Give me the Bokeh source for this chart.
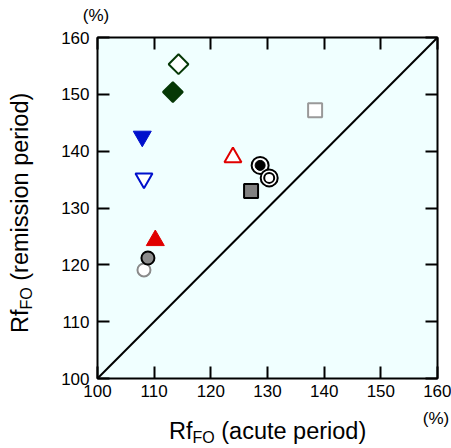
import math
from bokeh.plotting import figure
from bokeh.models import LinearAxis, FixedTicker, Div
from bokeh.layouts import column, row
from bokeh.embed import file_html
from bokeh.resources import INLINE

# ---- data (Rf_FO acute period vs remission period, %) ----
diag = [100, 160]
tick_vals = [100, 110, 120, 130, 140, 150, 160]

open_diamond_x = [114.3]; open_diamond_y = [155.3]
filled_diamond_x = [113.3]; filled_diamond_y = [150.4]
filled_invtri_x = [107.9]; filled_invtri_y = [142.6]
open_invtri_x = [108.2]; open_invtri_y = [135.2]
open_tri_x = [123.9]; open_tri_y = [138.9]
filled_tri_x = [110.2]; filled_tri_y = [124.3]
gray_circle_x = [108.9]; gray_circle_y = [121.2]
open_circle_x = [108.2]; open_circle_y = [119.1]
black_ring_x = [128.7]; black_ring_y = [137.5]
white_ring_x = [130.3]; white_ring_y = [135.3]
gray_square_x = [127.1]; gray_square_y = [133.0]
open_square_x = [138.4]; open_square_y = [147.2]

x_title_main = "Rf"
x_title_sub = "FO"
x_title_rest = " (acute period)"
y_title_rest = " (remission period)"
unit_text = "(%)"

FONT = "Liberation Sans"
CSS_FONT = "'Liberation Sans', Arial, Helvetica, sans-serif"

# layout geometry (page pixels)
TOP_H = 30          # strip above the figure
YLAB_W = 40         # strip left of the figure
FIG_W, FIG_H = 411, 375
XLAB_H = 43

p = figure(width=FIG_W, height=FIG_H, x_range=(100, 160), y_range=(100, 160),
           output_backend="svg", toolbar_location=None, title=None,
           min_border_left=57, min_border_right=14, min_border_top=7, min_border_bottom=27,
           background_fill_color="#f0ffff", border_fill_color="white")
p.grid.visible = False
p.outline_line_color = "black"
p.outline_line_width = 2

ticker = FixedTicker(ticks=tick_vals)


def style_axis(ax, labels=True):
    ax.ticker = ticker
    ax.axis_line_color = None
    ax.major_tick_in = 12
    ax.major_tick_out = 0
    ax.major_tick_line_width = 2
    ax.major_tick_line_color = "black"
    ax.minor_tick_line_color = None
    ax.major_label_text_font = FONT
    if labels:
        ax.major_label_text_color = "black"
        ax.major_label_text_font_size = "17px"
    else:
        ax.major_label_text_color = None
        ax.major_label_text_font_size = "1px"
        ax.major_label_standoff = 0


style_axis(p.xaxis[0])
style_axis(p.yaxis[0])
p.xaxis[0].major_label_standoff = 6
p.yaxis[0].major_label_standoff = 8

top = LinearAxis()
right = LinearAxis()
style_axis(top, labels=False)
style_axis(right, labels=False)
p.add_layout(top, "above")
p.add_layout(right, "right")

# line of identity
p.line(diag, diag, line_color="black", line_width=2)

lw = 2
green = "#063806"
blue = "#0010cc"
red = "#e00000"

p.scatter(open_diamond_x, open_diamond_y, marker="square", angle=math.pi / 4, size=14,
          fill_color="white", line_color=green, line_width=lw)
p.scatter(filled_diamond_x, filled_diamond_y, marker="square", angle=math.pi / 4, size=14,
          fill_color=green, line_color=green, line_width=lw)
p.scatter(filled_invtri_x, filled_invtri_y, marker="inverted_triangle", size=18,
          fill_color=blue, line_color=blue, line_width=1)
p.scatter(open_invtri_x, open_invtri_y, marker="inverted_triangle", size=17,
          fill_color="white", line_color=blue, line_width=lw)
p.scatter(open_tri_x, open_tri_y, marker="triangle", size=17,
          fill_color="white", line_color=red, line_width=lw)
p.scatter(filled_tri_x, filled_tri_y, marker="triangle", size=18,
          fill_color=red, line_color=red, line_width=1)
p.scatter(open_circle_x, open_circle_y, marker="circle", size=13,
          fill_color="white", line_color="#8a8a8a", line_width=lw)
p.scatter(gray_circle_x, gray_circle_y, marker="circle", size=13,
          fill_color="#8c8c8c", line_color="black", line_width=lw)
p.scatter(black_ring_x, black_ring_y, marker="circle", size=17,
          fill_color="white", line_color="black", line_width=lw)
p.scatter(black_ring_x, black_ring_y, marker="circle", size=10,
          fill_color="black", line_color="black", line_width=1)
p.scatter(white_ring_x, white_ring_y, marker="circle", size=17,
          fill_color="white", line_color="black", line_width=lw)
p.scatter(white_ring_x, white_ring_y, marker="circle", size=10,
          fill_color="white", line_color="black", line_width=lw)
p.scatter(gray_square_x, gray_square_y, marker="square", size=14,
          fill_color="#808080", line_color="black", line_width=lw)
p.scatter(open_square_x, open_square_y, marker="square", size=14,
          fill_color="white", line_color="#999999", line_width=lw)

# ---- titles as HTML text (real text, with subscript) ----
SUB = f'<span style="font-size:16px;position:relative;top:4px">{x_title_sub}</span>'


def box(w, h, inner):
    return (f'<div style="position:relative;width:{w}px;height:{h}px;overflow:visible;'
            f'font-family:{CSS_FONT};color:black">{inner}</div>')


top_html = box(451, TOP_H,
               f'<span style="position:absolute;left:96px;top:7px;transform:translateX(-50%);'
               f'font-size:17px;line-height:18px;white-space:nowrap">{unit_text}</span>')

x_html = box(451, XLAB_H,
             f'<span style="position:absolute;left:169px;top:13px;font-size:23.5px;'
             f'line-height:26px;white-space:nowrap">{x_title_main}{SUB}{x_title_rest}</span>'
             f'<span style="position:absolute;left:436px;top:5px;transform:translateX(-50%);'
             f'font-size:17px;line-height:18px;white-space:nowrap">{unit_text}</span>')

y_html = box(YLAB_W, FIG_H,
             f'<span style="position:absolute;left:7px;top:303px;transform-origin:0 0;'
             f'transform:rotate(-90deg);font-size:23.5px;line-height:26px;white-space:nowrap">'
             f'{x_title_main}{SUB}{y_title_rest}</span>')

top_div = Div(text=top_html, width=451, height=TOP_H, margin=0)
ylab_div = Div(text=y_html, width=YLAB_W, height=FIG_H, margin=0)
xlab_div = Div(text=x_html, width=451, height=XLAB_H, margin=0)

layout = column(top_div, row(ylab_div, p, spacing=0), xlab_div, spacing=0)

open("out.html", "w").write(file_html(layout, INLINE))
